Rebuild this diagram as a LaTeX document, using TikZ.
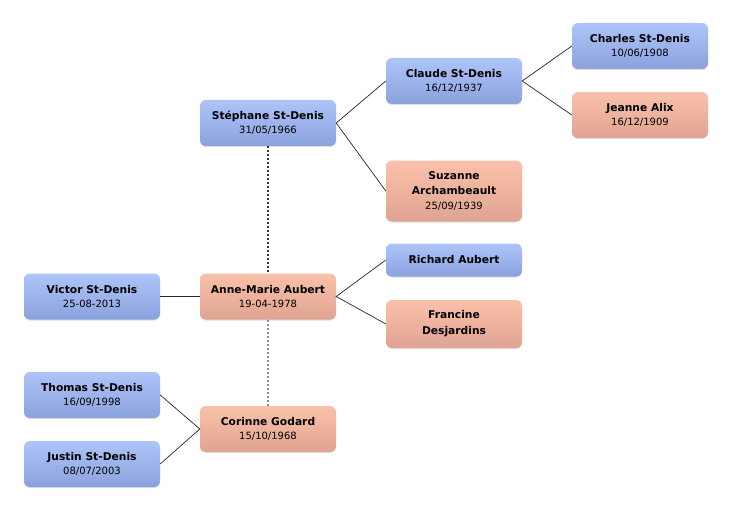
\documentclass[tikz,border=0pt]{standalone}
\usepackage{fontspec}
\setmainfont{DejaVu Sans}
\usetikzlibrary{shadows}
\definecolor{maletop}{HTML}{AEC5FA}
\definecolor{malebot}{HTML}{8BA1DC}
\definecolor{femtop}{HTML}{FAC1AA}
\definecolor{fembot}{HTML}{DFA491}
\newcommand{\who}[1]{{\fontsize{10.7}{14}\selectfont\bfseries #1}}

\begin{document}
\begin{tikzpicture}[x=1pt,y=-1pt,
  person/.style={rounded corners=6pt,minimum width=136pt,minimum height=46pt,align=center,
    font=\fontsize{10}{14}\selectfont,drop shadow={opacity=0.25,shadow xshift=0pt,shadow yshift=-1pt}},
  male/.style={person,top color=maletop,bottom color=malebot,draw=none},
  female/.style={person,top color=femtop,bottom color=fembot,draw=none},
  link/.style={draw=black!85,line width=0.7pt},
  couple/.style={draw=black!80,line width=1.6pt,dash pattern=on 2pt off 2pt}]

  \useasboundingbox (0,0) rectangle (732,511);

  % parents and grandparents
  \node [male] (stephane) at (268,123) {\who{Stéphane St-Denis}\\ 31/05/1966};
  \node [male] (claude) at (454,81) {\who{Claude St-Denis}\\ 16/12/1937};
  \node [male] (charles) at (640,46) {\who{Charles St-Denis}\\ 10/06/1908};
  \node [female] (jeanne) at (640,115) {\who{Jeanne Alix}\\ 16/12/1909};
  \node [female, minimum height=61pt, font=\fontsize{10}{15}\selectfont] (suzanne) at (454,191)
    {\who{Suzanne}\\ \who{Archambeault}\\ 25/09/1939};
  \node [male, minimum height=33pt] (richard) at (454,260) {\who{Richard Aubert}};
  \node [female, minimum height=48pt, font=\fontsize{10}{16}\selectfont] (francine) at (454,324)
    {\who{Francine}\\ \who{Desjardins}};
  \node [female] (annemarie) at (268,296.5) {\who{Anne-Marie Aubert}\\ 19-04-1978};
  \node [female] (corinne) at (268,429) {\who{Corinne Godard}\\ 15/10/1968};

  % children
  \node [male] (victor) at (92,296.5) {\who{Victor St-Denis}\\ 25-08-2013};
  \node [male] (thomas) at (92,395) {\who{Thomas St-Denis}\\ 16/09/1998};
  \node [male] (justin) at (92,464) {\who{Justin St-Denis}\\ 08/07/2003};

  \draw [link] (claude.west) -- (stephane.east) -- (suzanne.west);
  \draw [link] (charles.west) -- (claude.east) -- (jeanne.west);
  \draw [link] (richard.west) -- (annemarie.east) -- (francine.west);
  \draw [link] (victor.east) -- (annemarie.west);
  \draw [link] (thomas.east) -- (corinne.west) -- (justin.east);

  \draw [couple] (stephane.south) -- (annemarie.north);
  \draw [couple, draw=black!45] (annemarie.south) -- (corinne.north);
\end{tikzpicture}
\end{document}
